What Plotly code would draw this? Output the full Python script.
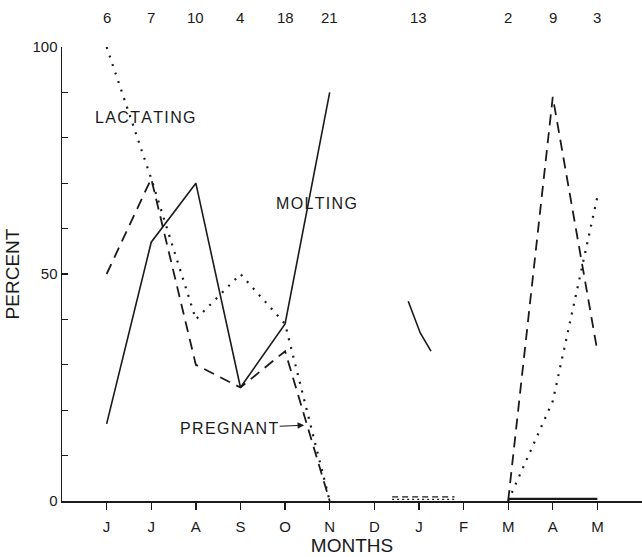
import plotly.graph_objects as go

# ---- data ----
month_labels = ["J", "J", "A", "S", "O", "N", "D", "J", "F", "M", "A", "M"]
month_pos = [1, 2, 3, 4, 5, 6, 7, 8, 9, 10, 11, 12]

sample_sizes = [6, 7, 10, 4, 18, 21, 13, 2, 9, 3]
sample_pos = [1, 2, 3, 4, 5, 6, 8, 10, 11, 12]

# June - November
x_first = [1, 2, 3, 4, 5, 6]
molting_first = [17, 57, 70, 25, 39, 90]
pregnant_first = [50, 71, 30, 25, 33, 0]
lactating_first = [100, 71, 40, 50, 39, 0]

# January (n=13)
x_jan_molt = [7.76, 8.03, 8.27]
molting_jan = [44, 37, 33]
x_jan_zero = [7.4, 8.8]
pregnant_jan = [0, 0]
lactating_jan = [0, 0]

# March - May
x_last = [10, 11, 12]
molting_last = [0, 0, 0]
pregnant_last = [0, 89, 33]
lactating_last = [0, 22, 67]

# ---- style ----
INK = "#1a1a1a"
FONT = "Liberation Sans, Arial, sans-serif"
SOLID = dict(color=INK, width=1.6)
DASHED = dict(color=INK, width=1.8, dash="11px,7px")
DOTTED = dict(color=INK, width=2.2, dash="2px,7px")
OFF_P, OFF_L, OFF_M = 0.9, 0.35, 0.45  # near-zero lines drawn just above the axis

fig = go.Figure()

def add(x, y, line, off=0.0):
    fig.add_trace(go.Scatter(x=x, y=[v + off for v in y], mode="lines", line=line,
                             showlegend=False, hoverinfo="skip", cliponaxis=False))

add(x_first, molting_first, SOLID)
add(x_first, pregnant_first, DASHED)
add(x_first, lactating_first, DOTTED)
add(x_jan_molt, molting_jan, SOLID)
add(x_jan_zero, pregnant_jan, dict(color=INK, width=1.4, dash="6px,4px"), OFF_P)
add(x_jan_zero, lactating_jan, dict(color=INK, width=1.4, dash="2px,3px"), OFF_L)
add(x_last, molting_last, dict(color=INK, width=2.2), OFF_M)
add(x_last, pregnant_last, DASHED)
add(x_last, lactating_last, DOTTED)

def spaced(s):
    return "\u200a".join(s)

annotations = []
for pos, n in zip(sample_pos, sample_sizes):
    annotations.append(dict(x=pos, y=1, xref="x", yref="paper", text=str(n),
                            showarrow=False, yshift=30, yanchor="middle",
                            font=dict(family=FONT, size=15, color=INK)))

LBL = dict(family=FONT, size=16, color=INK)
annotations += [
    dict(x=1.86, y=84.4, text=spaced("LACTATING"), showarrow=False, font=LBL),
    dict(x=5.7, y=65.6, text=spaced("MOLTING"), showarrow=False, font=LBL),
    dict(x=5.45, y=16.7, text=spaced("PREGNANT"), showarrow=True, ax=-76, ay=3,
         arrowhead=2, arrowwidth=1.1, arrowsize=1.2, arrowcolor=INK, standoff=1, font=LBL),
]

y_ticks = list(range(0, 101, 10))
y_text = [str(v) if v in (0, 50, 100) else "" for v in y_ticks]

fig.update_layout(
    width=642, height=557,
    margin=dict(l=62, r=0, t=47, b=56),
    paper_bgcolor="white", plot_bgcolor="white",
    font=dict(family=FONT, color=INK),
    annotations=annotations,
    xaxis=dict(range=[0, 13], tickvals=month_pos, ticktext=month_labels,
               ticks="outside", ticklen=7, tickwidth=1.3, tickcolor=INK,
               ticklabelstandoff=4,
               showline=True, linecolor=INK, linewidth=1.5, showgrid=False, zeroline=False,
               tickfont=dict(size=15, family=FONT, color=INK),
               title=dict(text="MONTHS", font=dict(size=19, family=FONT, color=INK), standoff=5)),
    yaxis=dict(range=[0, 100], tickvals=y_ticks, ticktext=y_text,
               ticks="inside", ticklen=6, tickwidth=1.3, tickcolor=INK,
               showline=True, linecolor=INK, linewidth=1.5, showgrid=False, zeroline=False,
               tickfont=dict(size=15, family=FONT, color=INK),
               title=dict(text="PERCENT", font=dict(size=19, family=FONT, color=INK), standoff=8)),
)

fig.write_html("out.html",
               config={"displayModeBar": False, "staticPlot": True},
               post_script="document.body.style.margin='0';document.body.style.overflow='hidden';")
